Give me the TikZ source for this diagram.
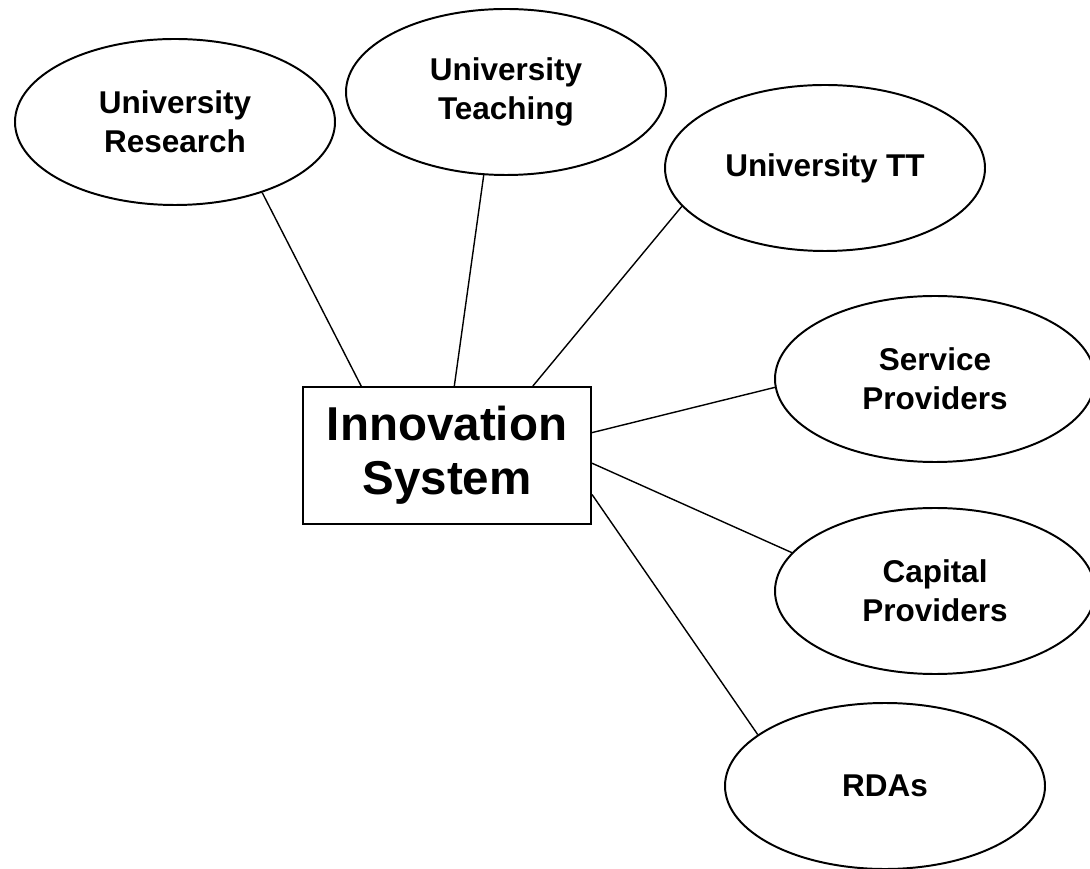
\documentclass[tikz,border=0pt]{standalone}
\usepackage{fontspec}
\setmainfont{Liberation Sans}
\usetikzlibrary{shapes.geometric}

\begin{document}
\begin{tikzpicture}[thick,
  actor/.style={ellipse,draw,line width=1.4pt,minimum width=8cm,minimum height=4.15cm,inner sep=0pt,align=center,font=\fontsize{22.4}{27.7}\selectfont\bfseries},
  hub/.style={rectangle,draw,line width=1.4pt,minimum width=7.2cm,minimum height=3.425cm,inner sep=0pt,align=center,font=\fontsize{33.8}{38.4}\selectfont\bfseries},
  link/.style={line width=1pt}]
\useasboundingbox (0,0) rectangle (27.25,21.7);
\node[hub] (sys) at (11.175,10.31) {Innovation\\System};
\node[actor] (res) at (4.375,18.65) {University\\Research};
\node[actor] (tea) at (12.65,19.4) {University\\Teaching};
\node[actor] (utt) at (20.625,17.5) {University TT};
\node[actor] (ser) at (23.375,12.225) {Service\\Providers};
\node[actor] (cap) at (23.375,6.925) {Capital\\Providers};
\node[actor] (rda) at (22.125,2.05) {RDAs};
\draw[link] (sys.141) -- (res.-39);
\draw[link] (sys.84) -- (tea.-105);
\draw[link] (sys.39) -- (utt.-165);
\draw[link] (sys.9) -- (ser.-177);
\draw[link] (sys.-3) -- (cap.165);
\draw[link] (sys.-15) -- (rda.158);
\end{tikzpicture}
\end{document}
